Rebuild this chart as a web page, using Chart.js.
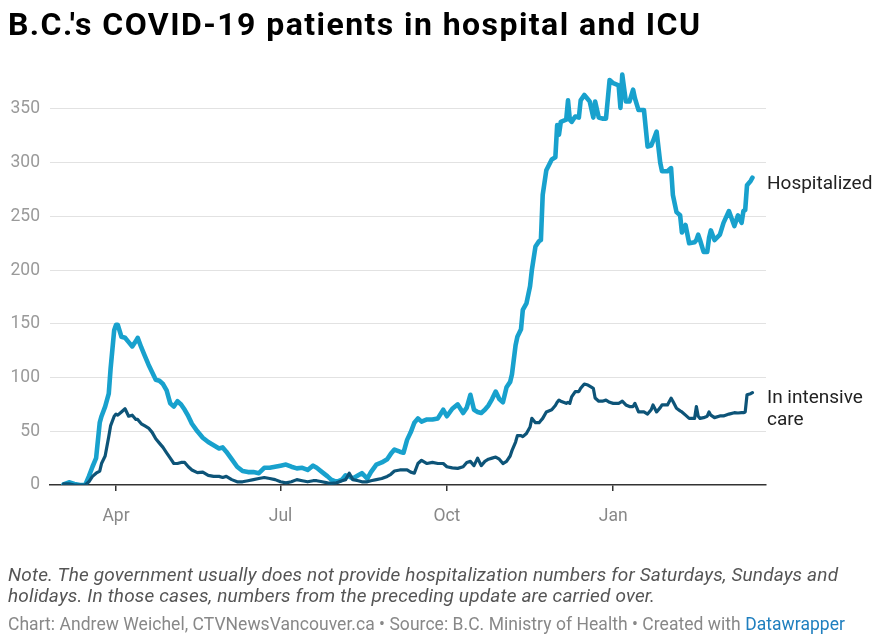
<!DOCTYPE html>
<html>
<head>
<meta charset="utf-8">
<script src="https://cdn.jsdelivr.net/npm/chart.js@4.4.1/dist/chart.umd.min.js"></script>
<style>
  html, body { margin: 0; padding: 0; background: #fff; }
  body { width: 882px; height: 644px; position: relative; overflow: hidden; font-family: Roboto, "Noto Sans", sans-serif; }
  #c { position: absolute; left: 0; top: 0; }
  #title { position: absolute; left: 8px; top: 8px; font-weight: 700; font-size: 32px; line-height: 32px; color: #000; white-space: nowrap; }
  #note { position: absolute; left: 8px; top: 564px; font-style: italic; font-size: 19px; line-height: 21px; color: #555; white-space: nowrap; }
  #credit { position: absolute; left: 8px; top: 614px; font-size: 17.5px; line-height: 20px; color: #888; white-space: nowrap; }
  #credit .dw { color: #1f7fbf; }
  .fit { display: inline-block; white-space: nowrap; }
</style>
</head>
<body>
<canvas id="c" width="882" height="644" style="width:882px;height:644px"></canvas>
<div id="title"><span class="fit" data-w="692">B.C.'s COVID-19 patients in hospital and ICU</span></div>
<div id="note"><span class="fit" data-w="830">Note. The government usually does not provide hospitalization numbers for Saturdays, Sundays and</span><br><span class="fit" data-w="647">holidays. In those cases, numbers from the preceding update are carried over.</span></div>
<div id="credit"><span class="fit" data-w="837">Chart: Andrew Weichel, CTVNewsVancouver.ca • Source: B.C. Ministry of Health • Created with <span class="dw">Datawrapper</span></span></div>
<script>
// ---------- DATA ----------
const dates = [
'2020-03-03','2020-03-06','2020-03-09','2020-03-12','2020-03-15','2020-03-17','2020-03-19','2020-03-21','2020-03-23','2020-03-24','2020-03-26','2020-03-28','2020-03-29','2020-03-31',
'2020-04-01','2020-04-02','2020-04-04','2020-04-06','2020-04-08','2020-04-10','2020-04-12','2020-04-13','2020-04-15','2020-04-17','2020-04-19','2020-04-21','2020-04-23','2020-04-25','2020-04-27','2020-04-29',
'2020-05-01','2020-05-03','2020-05-05','2020-05-07','2020-05-09','2020-05-11','2020-05-13','2020-05-16','2020-05-19','2020-05-22','2020-05-25','2020-05-28','2020-05-30',
'2020-06-01','2020-06-04','2020-06-07','2020-06-10','2020-06-13','2020-06-16','2020-06-19','2020-06-22','2020-06-25','2020-06-28',
'2020-07-01','2020-07-04','2020-07-07','2020-07-10','2020-07-13','2020-07-16','2020-07-19','2020-07-21','2020-07-24','2020-07-27','2020-07-29',
'2020-08-01','2020-08-04','2020-08-06','2020-08-08','2020-08-10','2020-08-13','2020-08-15','2020-08-18','2020-08-20','2020-08-23','2020-08-26','2020-08-29','2020-08-31',
'2020-09-02','2020-09-05','2020-09-07','2020-09-09','2020-09-11','2020-09-13','2020-09-15','2020-09-17','2020-09-20','2020-09-23','2020-09-26','2020-09-29',
'2020-10-01','2020-10-04','2020-10-07','2020-10-10','2020-10-12','2020-10-14','2020-10-16','2020-10-18','2020-10-20','2020-10-22','2020-10-24','2020-10-26','2020-10-28','2020-10-30',
'2020-11-01','2020-11-03','2020-11-05','2020-11-06','2020-11-08','2020-11-09','2020-11-11','2020-11-12','2020-11-14','2020-11-16','2020-11-17','2020-11-19','2020-11-21','2020-11-22','2020-11-23','2020-11-25','2020-11-28','2020-11-30',
'2020-12-01','2020-12-02','2020-12-03','2020-12-06','2020-12-07','2020-12-08','2020-12-09','2020-12-11','2020-12-13','2020-12-14','2020-12-16','2020-12-18','2020-12-19','2020-12-21','2020-12-22','2020-12-24','2020-12-26','2020-12-28','2020-12-30',
'2021-01-01','2021-01-04','2021-01-05','2021-01-06','2021-01-08','2021-01-10','2021-01-12','2021-01-13','2021-01-15','2021-01-18','2021-01-20','2021-01-22','2021-01-23','2021-01-25','2021-01-27','2021-01-28','2021-01-31',
'2021-02-02','2021-02-03','2021-02-05','2021-02-07','2021-02-08','2021-02-10','2021-02-12','2021-02-15','2021-02-16','2021-02-17','2021-02-18','2021-02-20','2021-02-22','2021-02-23','2021-02-24','2021-02-26',
'2021-03-01','2021-03-03','2021-03-06','2021-03-09','2021-03-11','2021-03-13','2021-03-14','2021-03-15','2021-03-16','2021-03-18','2021-03-19'
];

const hospitalized = [
0.5,2.5,1,0,0,8,17,25,58,64,73,85,108,144,
149,149,138,137,133,129,134,137,128,120,112,105,98,97,94,88,
76,73,78,75,70,64,57,50,44,40,37,34,35,
31,24,17,13,12,12,11,16,16,17,
18,19,17,15.5,16,14,18,16,12,8,5,
3,5,9,8,6,9,11,6,12,19,21,24,29,
33,31,30,42,49,58,62,59,61,61,62,70,
64,71,75,67,72,84,70,68,67,70,74,80,87,80,
77,91,96,103,130,138,145,163,169,185,200,222,227,228,270,293,303,305,
335,326,338,340,358,340,338,343,342,358,363,359,357,342,357,342,341,341,377,
374,372,351,382,357,357,368,360,349,349,315,316,320,329,300,292,292,
295,270,254,251,235,242,225,226,228,233,228,217,217,230,237,228,
233,244,255,241,251,244,255,256,279,283,286
];

const intensiveCare = [
1,1,0,0,0,3,8,11,13,20,27,45,55,64,
66,65,68,71,64,65,61,61,57,55,53,49,43,39,35,30,
25,20,20,21,21,17,14,11.5,12,9,8,8,7,
8,5,3,3,4,5,6,7,6,5,
3,2,3,5,4,3,4,4,3,2,1.5,
2,4,5,11,5,4,3,3,4,5,6,8,10,
13,14,14,14,12,11,20,23,20,21,20,20,
17,16,15.5,17,21,22,18,25,18,22,24,25,26,24,
20,22,27,32,40,46,46,45,48,54,62,58,58,60,62,68,70,74,
77,79,78,76,77,76,82,87,87,90,94,93,92,90,81,78,78,79,77,
76,76,77,78,74.5,73,73,76,68,68,66,70,74.5,68,72,74.5,74.5,
80.8,78,71.4,69,68,65,62,62,73,64,62,62.7,64,68,65,62.7,
64.3,64.3,66,67.3,67,67.3,67.3,68,84,85,86
];

const tickDates = ['2020-04-01','2020-07-01','2020-10-01','2021-01-01'];
const tickLabels = ['Apr','Jul','Oct','Jan'];
const yTickValues = [0,50,100,150,200,250,300,350];
const seriesNames = ['Hospitalized','In intensive care'];
const endLabelLines = [['Hospitalized'],['In intensive','care']];

// ---------- HELPERS ----------
const EPOCH = Date.UTC(2020,2,1);
function dayOf(s){ const p = s.split('-').map(Number); return (Date.UTC(p[0],p[1]-1,p[2]) - EPOCH)/86400000; }
const tickDays = tickDates.map(dayOf);

const endLabels = {
  id: 'endLabels',
  afterDatasetsDraw(chart){
    const ctx = chart.ctx, ys = chart.scales.y, area = chart.chartArea;
    ctx.save();
    ctx.font = '19px Roboto, "Noto Sans", sans-serif';
    ctx.fillStyle = '#222';
    ctx.textBaseline = 'alphabetic';
    ctx.textAlign = 'left';
    chart.data.datasets.forEach((ds) => {
      const last = ds.data[ds.data.length-1].y;
      const y0 = ys.getPixelForValue(last) + 10.8;
      ds.endLines.forEach((t, k) => ctx.fillText(t, area.right + 1, y0 + k*22));
    });
    ctx.restore();
  }
};

Chart.defaults.font.family = 'Roboto, "Noto Sans", sans-serif';

new Chart(document.getElementById('c'), {
  type: 'line',
  data: {
    datasets: [
      { label: seriesNames[0], endLines: endLabelLines[0],
        data: dates.map((d,i)=>({x: dayOf(d), y: hospitalized[i]})),
        borderColor: '#18a1cd', borderWidth: 4.6, pointRadius: 0, tension: 0,
        borderJoinStyle: 'round', borderCapStyle: 'round', order: 1 },
      { label: seriesNames[1], endLines: endLabelLines[1],
        data: dates.map((d,i)=>({x: dayOf(d), y: intensiveCare[i]})),
        borderColor: '#0d5478', borderWidth: 3.2, pointRadius: 0, tension: 0,
        borderJoinStyle: 'round', borderCapStyle: 'round', order: 0 }
    ]
  },
  options: {
    responsive: false,
    animation: false,
    devicePixelRatio: 1,
    layout: { padding: { top: 66, right: 116, bottom: 114, left: 0 } },
    plugins: { legend: { display: false }, tooltip: { enabled: false } },
    scales: {
      x: {
        type: 'linear', min: -5.5, max: 390.5,
        afterBuildTicks: s => { s.ticks = tickDays.map(v => ({ value: v })); },
        afterFit: s => { s.height = 45; },
        ticks: {
          autoSkip: false, maxRotation: 0, padding: 15, color: '#888',
          font: { size: 17.5 },
          callback: v => { const i = tickDays.indexOf(v); return i >= 0 ? tickLabels[i] : ''; }
        },
        grid: { drawOnChartArea: false, drawTicks: true, tickLength: 6, color: '#333', lineWidth: 1.5 },
        border: { display: true, color: '#333', width: 1.5 }
      },
      y: {
        min: 0, max: 390,
        afterBuildTicks: s => { s.ticks = yTickValues.map(v => ({ value: v })); },
        afterFit: s => { s.width = 50; },
        ticks: { padding: 10, color: '#9a9a9a', font: { size: 17.5 } },
        grid: { drawTicks: false, lineWidth: 1, color: c => (c.tick && c.tick.value === 0) ? 'rgba(0,0,0,0)' : '#e2e2e2' },
        border: { display: false }
      }
    }
  },
  plugins: [endLabels]
});

// fit text lines to the widths they span in the reference
document.querySelectorAll('.fit').forEach(el => {
  const w = el.getBoundingClientRect().width;
  const n = el.textContent.length;
  el.style.letterSpacing = ((+el.dataset.w - w) / (n - 1)).toFixed(3) + 'px';
});
</script>
</body>
</html>
